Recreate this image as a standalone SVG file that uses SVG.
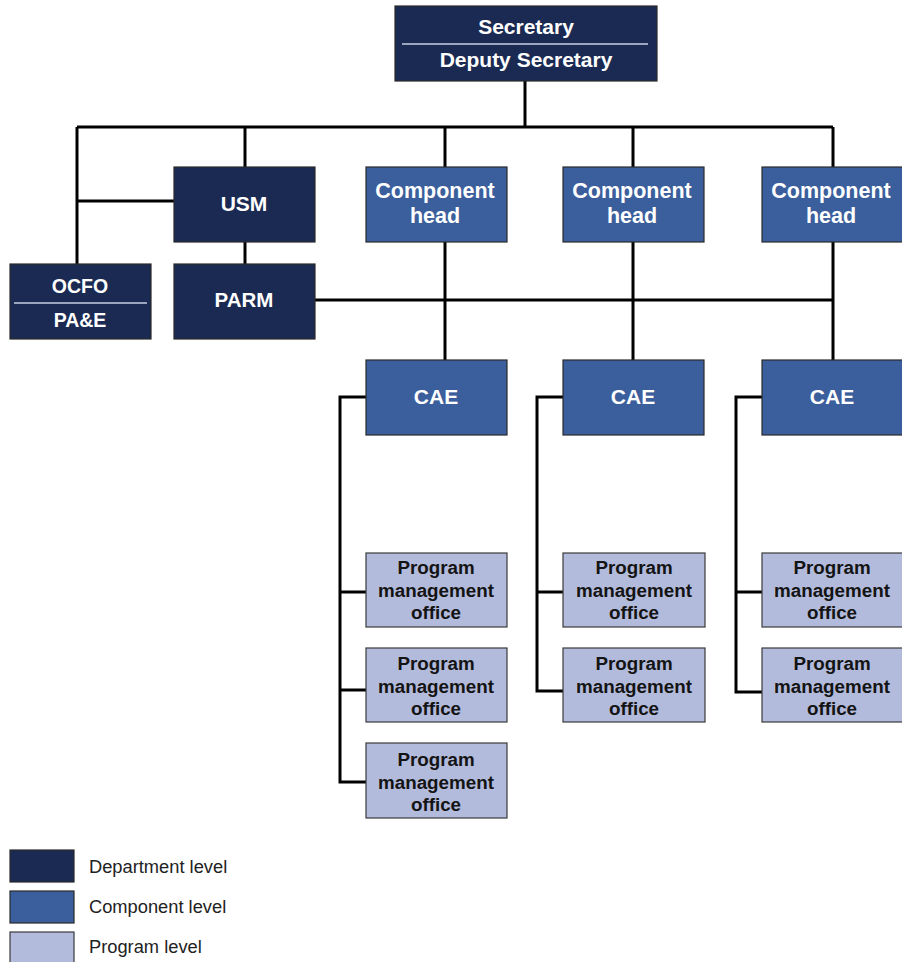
<svg xmlns="http://www.w3.org/2000/svg" width="902" height="962" viewBox="0 0 902 962">
  <style>
    .dept { fill: #1b2a52; stroke: #2b2b2b; stroke-width: 1.2; }
    .comp { fill: #3b5e9c; stroke: #2b2b2b; stroke-width: 1.2; }
    .prog { fill: #b3bbdc; stroke: #3a3a3a; stroke-width: 1.2; }
    .lbl { font-family: "Liberation Sans", Arial, sans-serif; font-weight: bold; text-anchor: middle; fill: #ffffff; }
    .plbl { font-family: "Liberation Sans", Arial, sans-serif; font-weight: bold; text-anchor: middle; fill: #141414; font-size: 18.8px; }
    .rule { stroke: #c9cfe3; stroke-width: 1.5; }
    .wire { fill: none; stroke: #000000; stroke-width: 3; stroke-linejoin: miter; }
    .key { font-family: "Liberation Sans", Arial, sans-serif; font-size: 18.3px; fill: #222222; }
  </style>
  <rect width="902" height="962" fill="#ffffff"/>

  <!-- connectors -->
  <g id="connectors" class="wire">
    <path d="M525 81 V127"/>
    <path d="M77 127 H833"/>
    <path d="M77 127 V264"/>
    <path d="M77 201 H174"/>
    <path d="M245 127 V167"/>
    <path d="M245 242 V264"/>
    <path d="M445 127 V167"/>
    <path d="M633 127 V167"/>
    <path d="M833 127 V167"/>
    <path d="M315 300 H833"/>
    <path d="M445 242 V360"/>
    <path d="M633 242 V360"/>
    <path d="M833 242 V360"/>
    <!-- CAE to program offices, column 1 -->
    <path d="M366 397 H340 V782 H366"/>
    <path d="M340 592 H366"/>
    <path d="M340 690 H366"/>
    <!-- column 2 -->
    <path d="M563 397 H537 V691 H563"/>
    <path d="M537 592 H563"/>
    <!-- column 3 -->
    <path d="M762 397 H736 V692 H762"/>
    <path d="M736 592 H762"/>
  </g>

  <!-- department level -->
  <g id="secretary">
    <rect class="dept" x="395" y="6" width="262" height="75"/>
    <line class="rule" x1="402" y1="44" x2="648" y2="44"/>
    <text class="lbl" x="526" y="34" font-size="21">Secretary</text>
    <text class="lbl" x="526" y="67" font-size="21">Deputy Secretary</text>
  </g>
  <g id="usm">
    <rect class="dept" x="174" y="167" width="141" height="75"/>
    <text class="lbl" x="244" y="211" font-size="21">USM</text>
  </g>
  <g id="ocfo">
    <rect class="dept" x="10" y="264" width="141" height="75"/>
    <line class="rule" x1="14" y1="303" x2="147" y2="303"/>
    <text class="lbl" x="80" y="293" font-size="19.5">OCFO</text>
    <text class="lbl" x="80" y="327" font-size="19.5">PA&amp;E</text>
  </g>
  <g id="parm">
    <rect class="dept" x="174" y="264" width="141" height="75"/>
    <text class="lbl" x="244" y="307" font-size="20.5">PARM</text>
  </g>

  <!-- component level -->
  <g id="head1">
    <rect class="comp" x="366" y="167" width="141" height="75"/>
    <text class="lbl" x="435" y="198" font-size="21.5">Component</text>
    <text class="lbl" x="435" y="223" font-size="21.5">head</text>
  </g>
  <g id="head2">
    <rect class="comp" x="563" y="167" width="141" height="75"/>
    <text class="lbl" x="632" y="198" font-size="21.5">Component</text>
    <text class="lbl" x="632" y="223" font-size="21.5">head</text>
  </g>
  <g id="head3">
    <rect class="comp" x="762" y="167" width="142" height="75"/>
    <text class="lbl" x="831" y="198" font-size="21.5">Component</text>
    <text class="lbl" x="831" y="223" font-size="21.5">head</text>
  </g>
  <g id="cae1">
    <rect class="comp" x="366" y="360" width="141" height="75"/>
    <text class="lbl" x="436" y="404" font-size="21">CAE</text>
  </g>
  <g id="cae2">
    <rect class="comp" x="563" y="360" width="141" height="75"/>
    <text class="lbl" x="633" y="404" font-size="21">CAE</text>
  </g>
  <g id="cae3">
    <rect class="comp" x="762" y="360" width="142" height="75"/>
    <text class="lbl" x="832" y="404" font-size="21">CAE</text>
  </g>

  <!-- program level -->
  <g id="pmo1a">
    <rect class="prog" x="366" y="553" width="141" height="74"/>
    <text class="plbl" x="436" y="574">Program</text>
    <text class="plbl" x="436" y="597">management</text>
    <text class="plbl" x="436" y="619">office</text>
  </g>
  <g id="pmo1b">
    <rect class="prog" x="366" y="648" width="141" height="74"/>
    <text class="plbl" x="436" y="670">Program</text>
    <text class="plbl" x="436" y="693">management</text>
    <text class="plbl" x="436" y="715">office</text>
  </g>
  <g id="pmo1c">
    <rect class="prog" x="366" y="743" width="141" height="75"/>
    <text class="plbl" x="436" y="766">Program</text>
    <text class="plbl" x="436" y="789">management</text>
    <text class="plbl" x="436" y="811">office</text>
  </g>
  <g id="pmo2a">
    <rect class="prog" x="563" y="553" width="142" height="74"/>
    <text class="plbl" x="634" y="574">Program</text>
    <text class="plbl" x="634" y="597">management</text>
    <text class="plbl" x="634" y="619">office</text>
  </g>
  <g id="pmo2b">
    <rect class="prog" x="563" y="648" width="142" height="74"/>
    <text class="plbl" x="634" y="670">Program</text>
    <text class="plbl" x="634" y="693">management</text>
    <text class="plbl" x="634" y="715">office</text>
  </g>
  <g id="pmo3a">
    <rect class="prog" x="762" y="553" width="142" height="74"/>
    <text class="plbl" x="832" y="574">Program</text>
    <text class="plbl" x="832" y="597">management</text>
    <text class="plbl" x="832" y="619">office</text>
  </g>
  <g id="pmo3b">
    <rect class="prog" x="762" y="648" width="142" height="74"/>
    <text class="plbl" x="832" y="670">Program</text>
    <text class="plbl" x="832" y="693">management</text>
    <text class="plbl" x="832" y="715">office</text>
  </g>

  <!-- legend -->
  <g id="legend">
    <rect class="dept" x="10" y="850" width="64" height="32"/>
    <text class="key" x="89" y="873">Department level</text>
    <rect class="comp" x="10" y="891" width="64" height="32"/>
    <text class="key" x="89" y="913">Component level</text>
    <rect class="prog" x="10" y="932" width="64" height="32"/>
    <text class="key" x="89" y="953">Program level</text>
  </g>
</svg>
